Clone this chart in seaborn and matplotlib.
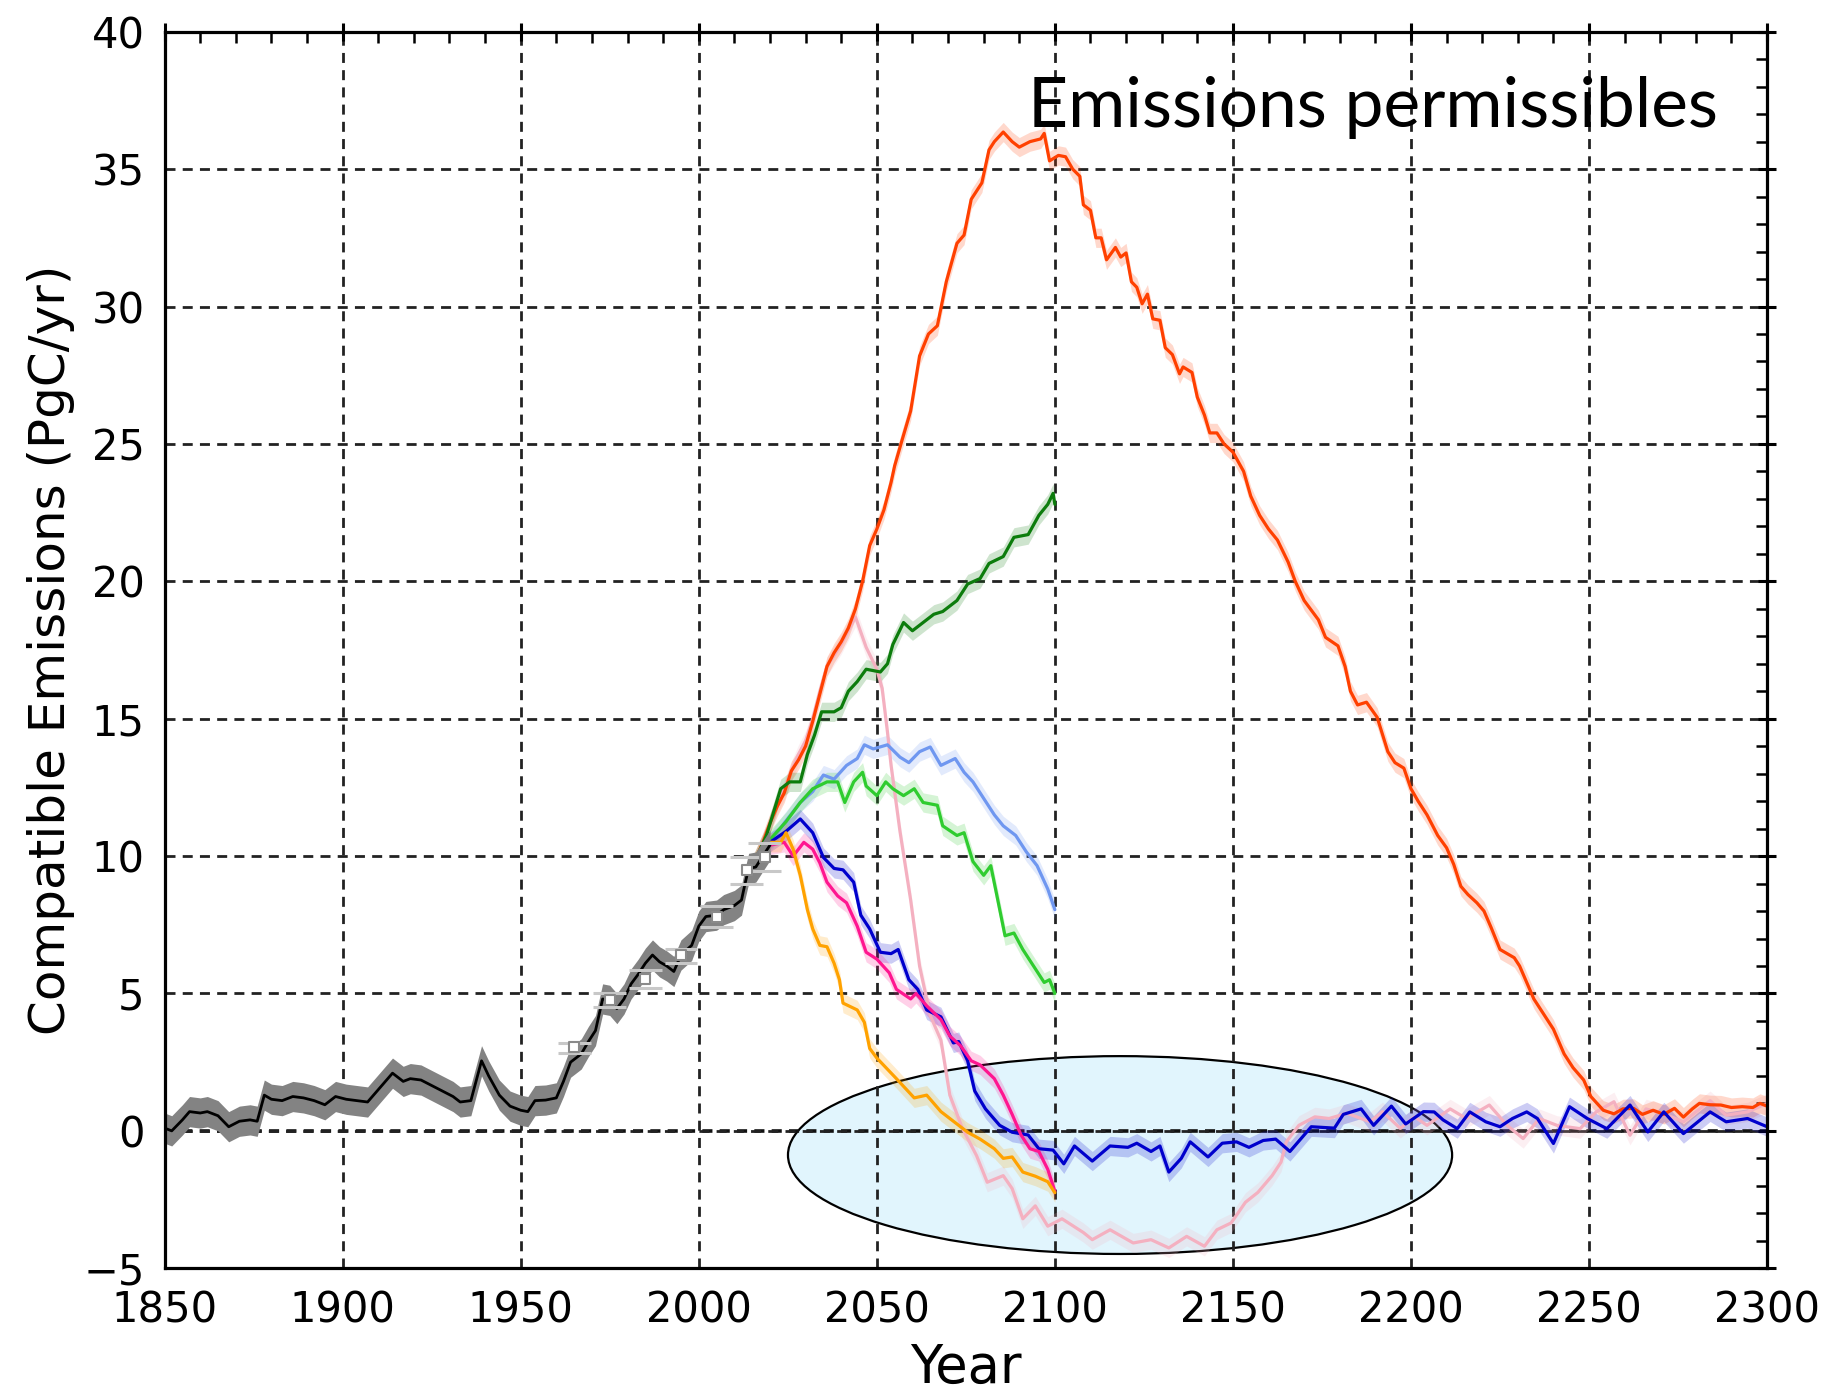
import numpy as np
import pandas as pd
import matplotlib
matplotlib.use("Agg")
import matplotlib.pyplot as plt
from matplotlib.patches import Ellipse
from matplotlib.ticker import MultipleLocator
import seaborn as sns

# ---------------------------------------------------------------- data
hist_years = [1850, 1852, 1855, 1857, 1860, 1862, 1865, 1868, 1871, 1874, 1876, 1878,
              1880, 1883, 1886, 1889, 1892, 1895, 1898, 1901, 1904, 1907, 1910, 1914,
              1917, 1919, 1922, 1925, 1928, 1931, 1933, 1936, 1939, 1941, 1944, 1947,
              1950, 1952, 1954, 1957, 1960, 1962, 1964, 1967, 1969, 1971, 1973, 1975,
              1977, 1979, 1981, 1983, 1985, 1987, 1989, 1991, 1993, 1995, 1998, 2000,
              2002, 2005, 2007, 2010, 2012, 2013, 2014, 2016, 2018, 2020]
hist_values = [0.1, 0.0, 0.4, 0.7, 0.65, 0.7, 0.55, 0.15, 0.35, 0.4, 0.35, 1.3,
               1.15, 1.1, 1.25, 1.2, 1.1, 0.95, 1.25, 1.15, 1.1, 1.05, 1.5, 2.1,
               1.8, 1.9, 1.85, 1.65, 1.45, 1.25, 1.05, 1.1, 2.55, 2.0, 1.3, 0.9,
               0.75, 0.7, 1.1, 1.12, 1.2, 1.8, 2.5, 2.8, 3.25, 3.65, 4.8, 4.75,
               4.45, 4.8, 5.35, 5.7, 6.1, 6.4, 6.15, 6.0, 5.8, 6.4, 6.75, 7.45,
               7.8, 7.85, 8.05, 8.2, 8.4, 9.0, 9.55, 9.6, 10.0, 10.4]

obs_years = [1965, 1975, 1985, 1995, 2005, 2013.5, 2018.5]
obs_mean = [3.05, 4.76, 5.54, 6.4, 7.8, 9.5, 9.98]
obs_low = [2.84, 4.52, 5.2, 6.1, 7.43, 9.0, 9.46]
obs_high = [3.2, 5.0, 5.84, 6.62, 8.2, 9.98, 10.46]

ssp585_years = [2015, 2018, 2020, 2022, 2024, 2026, 2028, 2030, 2032, 2034, 2036, 2038,
                2040, 2042, 2044, 2046, 2048, 2050, 2052, 2054, 2055, 2057, 2059.5, 2062,
                2064.5, 2067, 2069.5, 2072.5, 2074.5, 2076.5, 2079.5, 2081.5, 2083, 2085.5,
                2088, 2090, 2093, 2096, 2097, 2098.5, 2101, 2103, 2105, 2107, 2108, 2110,
                2111.5, 2113, 2114.5, 2117, 2118.5, 2120, 2121.5, 2123, 2124.5, 2126,
                2127.5, 2129.5, 2131, 2133, 2135, 2136, 2138.5, 2140, 2142, 2143.5,
                2145.5, 2147.5, 2150, 2153, 2155, 2157.5, 2160, 2162.5, 2165.5, 2167.5,
                2170, 2174, 2176, 2179.5, 2181.5, 2183, 2185, 2187.5, 2190.5, 2193.5,
                2195.5, 2198, 2200, 2202, 2204.5, 2207.5, 2210, 2212, 2214, 2216,
                2218.5, 2220.5, 2222.5, 2225, 2229, 2230.5, 2232.5, 2234.5, 2237, 2240,
                2243, 2245.5, 2248.5, 2250.5, 2254, 2257, 2259.5, 2262.5, 2265, 2268,
                2271, 2274, 2276.5, 2279, 2281, 2284, 2287, 2290, 2293, 2296, 2298, 2300]
ssp585_values = [9.6, 10.5, 11.2, 11.8, 12.3, 13.1, 13.5, 14.0, 14.9, 15.9, 16.9, 17.4,
                 17.8, 18.3, 19.0, 20.0, 21.3, 21.9, 22.6, 23.6, 24.2, 25.1, 26.2, 28.2,
                 29.0, 29.3, 30.9, 32.3, 32.6, 33.9, 34.5, 35.7, 36.0, 36.35,
                 36.0, 35.8, 36.0, 36.1, 36.3, 35.3, 35.5, 35.45, 35.0, 34.74, 33.7, 33.5,
                 32.5, 32.5, 31.7, 32.15, 31.8, 31.95, 30.9, 30.7, 30.1, 30.45,
                 29.55, 29.5, 28.5, 28.25, 27.55, 27.8, 27.6, 26.7, 26.05, 25.4,
                 25.4, 25.0, 24.7, 24.0, 23.1, 22.4, 21.9, 21.5, 20.7, 20.0,
                 19.3, 18.6, 17.96, 17.65, 16.9, 16.0, 15.5, 15.6, 15.05, 13.8,
                 13.4, 13.2, 12.45, 12.0, 11.5, 10.75, 10.3, 9.7, 8.9, 8.6,
                 8.3, 8.0, 7.4, 6.6, 6.3, 6.0, 5.4, 4.8, 4.3, 3.7,
                 2.8, 2.3, 1.85, 1.25, 0.75, 0.62, 0.8, 0.82, 0.6, 0.75,
                 0.6, 0.82, 0.5, 0.8, 1.0, 0.95, 0.94, 0.85, 0.88, 0.85, 1.0, 0.9]

ssp370_years = [2015, 2019, 2023, 2025.5, 2028.5, 2030.5, 2032.5, 2034.5, 2038, 2040,
                2042, 2044.5, 2047, 2051, 2053, 2054.5, 2057.5, 2060, 2062, 2066,
                2068.5, 2072.5, 2075.5, 2079, 2081.5, 2085.5, 2088.5, 2092.5, 2095.5,
                2098, 2099.5, 2100]
ssp370_values = [9.6, 10.75, 12.45, 12.7, 12.7, 13.7, 14.4, 15.25, 15.25, 15.4,
                 16.0, 16.35, 16.8, 16.7, 17.0, 17.7, 18.5, 18.2, 18.4, 18.8,
                 18.9, 19.3, 19.9, 20.1, 20.65, 20.9, 21.6, 21.7, 22.4,
                 22.8, 23.2, 22.8]

ssp460_years = [2015, 2020, 2024, 2028.5, 2032, 2035, 2038, 2041.5, 2044.5, 2046.5,
                2049, 2053, 2056.5, 2059, 2062, 2065, 2068, 2072, 2074.5, 2077,
                2080, 2083, 2085.5, 2089, 2092, 2095, 2098, 2100]
ssp460_values = [9.6, 10.5, 11.2, 11.95, 12.35, 12.95, 12.8, 13.3, 13.55, 14.05,
                 13.9, 14.05, 13.6, 13.4, 13.8, 13.97, 13.3, 13.55, 13.05, 12.7,
                 12.1, 11.5, 11.1, 10.75, 10.15, 9.65, 8.8, 8.05]

ssp245_years = [2015, 2020, 2024.5, 2028.5, 2032, 2036, 2039, 2041, 2043.5, 2046,
                2047, 2050, 2052.5, 2054.5, 2057.5, 2060.5, 2063, 2067, 2068.5, 2072.5,
                2074.5, 2077, 2080, 2082, 2083.5, 2086, 2088.5, 2091, 2094, 2097,
                2098.5, 2100]
ssp245_values = [9.6, 10.6, 11.25, 11.95, 12.45, 12.7, 12.7, 11.95, 12.7, 13.05,
                 12.55, 12.2, 12.7, 12.45, 12.2, 12.45, 11.95, 11.85, 11.1, 10.75,
                 10.85, 9.8, 9.3, 9.65, 8.7, 7.1, 7.2, 6.6, 6.0, 5.4,
                 5.5, 5.0]

ssp126_years = [2015, 2020, 2024.5, 2028.5, 2032, 2035, 2038, 2040.5, 2043.5, 2045.5,
                2048, 2051, 2054, 2056, 2059, 2061.5, 2064, 2068, 2071.5, 2073,
                2075.5, 2077.5, 2080.5, 2084.5, 2088, 2092.5, 2095.5, 2099.5, 2102.5,
                2105.5, 2110.5, 2115.5, 2120.5, 2123, 2127, 2129.5, 2132, 2135.5, 2138,
                2143, 2147, 2151, 2154.5, 2158.5, 2162, 2166, 2169, 2172, 2178.5,
                2181, 2186, 2189.5, 2194.5, 2198.5, 2203.5, 2206.5, 2209, 2213, 2216.5,
                2221, 2225, 2228.5, 2232.5, 2235.5, 2240, 2244.5, 2249.5, 2255, 2261.5,
                2266.5, 2271, 2276.5, 2284, 2288.5, 2294.5, 2300]
ssp126_values = [9.6, 10.5, 10.9, 11.35, 10.85, 9.95, 9.55, 9.5, 9.05, 7.85,
                 7.35, 6.5, 6.45, 6.6, 5.5, 5.15, 4.4, 4.15, 3.2, 3.25,
                 2.55, 1.45, 0.8, 0.2, -0.05, -0.15, -0.65, -0.7, -1.2,
                 -0.55, -1.1, -0.55, -0.6, -0.45, -0.75, -0.55, -1.5, -1.0, -0.4,
                 -0.95, -0.45, -0.4, -0.6, -0.35, -0.3, -0.75, -0.3, 0.15, 0.1,
                 0.6, 0.8, 0.2, 0.9, 0.25, 0.7, 0.69, 0.4, 0.08, 0.69,
                 0.33, 0.15, 0.45, 0.69, 0.45, -0.46, 0.88, 0.45, 0.08, 0.94,
                 -0.04, 0.69, -0.1, 0.69, 0.33, 0.45, 0.15]

ssp434_years = [2015, 2020, 2024, 2026.5, 2029.5, 2032, 2034, 2036, 2039, 2041.5,
                2044.5, 2047, 2050, 2053.5, 2055.5, 2059.5, 2061, 2064, 2068, 2070.5,
                2073.5, 2076.5, 2079, 2083, 2085.5, 2088, 2090.5, 2093, 2095.5, 2098,
                2100]
ssp434_values = [9.6, 10.4, 10.5, 10.0, 10.5, 10.25, 9.75, 9.05, 8.55, 8.3,
                 7.45, 6.5, 6.25, 5.75, 5.15, 4.8, 5.0, 4.55, 4.05, 3.45,
                 3.1, 2.55, 2.4, 1.9, 1.3, 0.6, -0.15, -0.65, -0.75, -1.4,
                 -2.2]

ssp119_years = [2015, 2020, 2023, 2024.5, 2026.5, 2028.5, 2030.5, 2032, 2034, 2036,
                2038, 2039.5, 2040.5, 2044.5, 2046.5, 2048, 2050, 2055.5, 2060.5, 2064,
                2068, 2071.5, 2075.5, 2079, 2083, 2085.5, 2088, 2091, 2094.5, 2098,
                2100]
ssp119_values = [9.6, 10.5, 10.5, 10.85, 10.25, 9.3, 8.05, 7.35, 6.75, 6.7,
                 6.1, 5.5, 4.65, 4.4, 3.95, 3.0, 2.65, 1.9, 1.2, 1.3,
                 0.7, 0.35, -0.05, -0.3, -0.65, -1.0, -0.95, -1.5, -1.65, -1.85,
                 -2.25]

ssp534_years = [2015, 2018, 2020, 2022, 2024, 2026, 2028, 2030, 2032, 2034, 2036, 2038,
                2040, 2042, 2044, 2047, 2050, 2051.5, 2053, 2054, 2056.5, 2059.5, 2062,
                2065, 2068, 2070.5, 2074, 2078, 2081, 2085.5, 2088, 2091, 2094.5, 2098,
                2102, 2108, 2110.5, 2115.5, 2122, 2127, 2132, 2137, 2142, 2145.5,
                2149.5, 2153.5, 2157, 2161, 2163.5, 2165, 2168.5, 2173, 2177, 2182,
                2188.5, 2192, 2197, 2201, 2204.5, 2211, 2215.5, 2222, 2227, 2231.5,
                2236, 2241, 2247.5, 2252, 2257, 2261.5, 2266, 2272, 2276.5, 2284,
                2288.5, 2294.5, 2300]
ssp534_values = [9.6, 10.5, 11.2, 11.9, 12.4, 13.1, 13.7, 14.2, 15.0, 16.0, 16.9, 17.3,
                 17.7, 18.2, 18.7, 17.6, 16.8, 16.1, 14.5, 13.3, 10.9, 8.4, 6.0,
                 4.2, 3.3, 1.3, 0.1, -0.9, -1.87, -1.63, -2.1, -3.2, -2.73, -3.47,
                 -3.2, -3.7, -3.96, -3.6, -4.08, -3.96, -4.26, -3.84, -4.2, -3.6,
                 -3.35, -2.6, -2.24, -1.63, -1.14, -0.4, 0.2, 0.51, 0.45, 0.64,
                 0.33, 0.7, 0.09, 0.51, 0.2, 0.8, 0.45, 0.94, 0.2, -0.28,
                 0.45, 0.2, 0.08, 0.69, 1.06, -0.16, 0.8, 0.57, 0.33, 1.1,
                 0.57, 0.69, 1.0]

scenario_names = ["ssp534-over", "ssp585", "ssp370", "ssp460", "ssp245",
                  "ssp126", "ssp434", "ssp119"]
scenario_years = [ssp534_years, ssp585_years, ssp370_years, ssp460_years,
                  ssp245_years, ssp126_years, ssp434_years, ssp119_years]
scenario_values = [ssp534_values, ssp585_values, ssp370_values, ssp460_values,
                   ssp245_values, ssp126_values, ssp434_values, ssp119_values]
scenario_colors = ["#f4b0c0", "#ff4000", "#0c7c0c", "#6f97f0", "#2fcc2f",
                   "#0000cc", "#ff1690", "#ffa200"]

# ---------------------------------------------------------------- style
sns.set_style("white")
plt.rcParams["font.family"] = ["DejaVu Sans"]
plt.rcParams["text.color"] = "black"
plt.rcParams["axes.labelcolor"] = "black"
plt.rcParams["xtick.color"] = "black"
plt.rcParams["ytick.color"] = "black"

fig = plt.figure(figsize=(18.31, 13.92), dpi=100)
ax = fig.add_axes([0.0899, 0.0889, 0.8752, 0.8883])

# long table of the scenario pathways
frames = []
for name, yrs, vals in zip(scenario_names, scenario_years, scenario_values):
    frames.append(pd.DataFrame({"year": yrs, "emissions": vals, "scenario": name}))
scen_df = pd.concat(frames, ignore_index=True)
hist_df = pd.DataFrame({"year": hist_years, "emissions": hist_values})

band_half = 0.35
for name, yrs, vals, col in zip(scenario_names, scenario_years, scenario_values,
                                scenario_colors):
    v = np.asarray(vals)
    ax.fill_between(yrs, v - band_half, v + band_half, color=col, alpha=0.2,
                    lw=0, zorder=1.7)

palette = dict(zip(scenario_names, scenario_colors))
sns.lineplot(data=scen_df, x="year", y="emissions", hue="scenario",
             hue_order=scenario_names, palette=palette, estimator=None,
             legend=False, lw=2.3, ax=ax, zorder=2.2)

# historical record with its uncertainty band
hv = np.asarray(hist_values)
ax.fill_between(hist_years, hv - 0.55, hv + 0.55, color="#838383", lw=0, zorder=2.4)
sns.lineplot(data=hist_df, x="year", y="emissions", color="black", lw=2.0,
             estimator=None, ax=ax, zorder=2.6)

# decadal observation estimates
obs_x = np.asarray(obs_years)
ax.hlines(obs_low, obs_x - 4.6, obs_x + 4.6, color="#c8c8c8", lw=2.2, zorder=2.7)
ax.hlines(obs_high, obs_x - 4.6, obs_x + 4.6, color="#c8c8c8", lw=2.2, zorder=2.7)
sns.scatterplot(x=obs_years, y=obs_mean, marker="s", s=45, color="white",
                edgecolor="#8a8a8a", linewidth=1.5, ax=ax, zorder=2.8)

# highlighted negative-emission period
ax.add_patch(Ellipse((2118.3, -0.88), 186.5, 7.2, facecolor="#e1f5fd",
                     edgecolor="black", lw=1.6, zorder=1.2))

# axes, grid and ticks
ax.set_xlim(1850, 2300)
ax.set_ylim(-5, 40)
ax.xaxis.set_major_locator(MultipleLocator(50))
ax.xaxis.set_minor_locator(MultipleLocator(10))
ax.yaxis.set_major_locator(MultipleLocator(5))
ax.yaxis.set_minor_locator(MultipleLocator(1))
ax.set_axisbelow("line")
ax.grid(True, which="major", color="#222222", lw=2.0, ls=(0, (3.6, 2.6)))
ax.axhline(0, color="#111111", lw=2.6, ls=(0, (2.8, 2.0)), zorder=1.5)
for sp in ax.spines.values():
    sp.set_linewidth(2.3)
    sp.set_color("black")
ax.tick_params(which="major", direction="inout", length=13, width=2.2,
               top=True, right=True, labelsize=30, color="black",
               labelcolor="black")
ax.tick_params(which="minor", direction="in", length=8, width=1.8,
               top=True, right=True, color="black")
ax.tick_params(axis="x", which="major", pad=9)
ax.tick_params(axis="y", which="major", pad=8)

ax.set_xlabel("Year", fontsize=38, labelpad=7)
ax.set_ylabel("Compatible Emissions (PgC/yr)", fontsize=36, labelpad=6)

fig.text(0.5615, 0.909, "Emissions permissibles", fontsize=50, color="black",
         family=["Lato", "DejaVu Sans"], va="baseline", ha="left")

fig.savefig("out.png", dpi=100)
